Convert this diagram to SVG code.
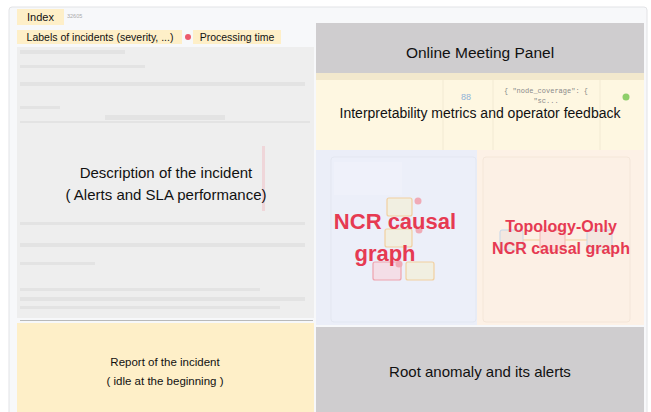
<svg xmlns="http://www.w3.org/2000/svg" width="651" height="412" viewBox="0 0 651 412">
<defs>
<style>
.t{font-family:"Liberation Sans",Arial,sans-serif;fill:#111;text-anchor:middle}
.red{font-family:"Liberation Sans",Arial,sans-serif;fill:#e63a52;font-weight:bold;text-anchor:middle}
.yel{fill:#feefc8}
.gry{fill:#cfcdcf}
.streak{fill:#cdcdcd;opacity:0.35}
.mini{fill:#f3efdc;stroke-width:1.2}
</style>
</defs>
<rect width="651" height="412" fill="#ffffff"/>
<g id="frame">
<rect x="9" y="7" width="638" height="420" rx="3" fill="#f7f8fa" stroke="#e2e3e6"/>
</g>
<g id="index">
<rect class="yel" x="17" y="9" width="47" height="16"/>
<text class="t" x="40.5" y="21" font-size="11">Index</text>
<text x="67" y="18" font-family="Liberation Sans,Arial,sans-serif" font-size="5.5" fill="#aaa">32605</text>
</g>
<g id="labels">
<rect class="yel" x="17" y="30" width="165" height="14"/>
<text class="t" x="100" y="41" font-size="10.5">Labels of incidents (severity, ...)</text>
<circle cx="188" cy="37" r="3" fill="#ec5a6c"/>
</g>
<g id="processing">
<rect class="yel" x="193" y="30" width="88" height="14"/>
<text class="t" x="237" y="41" font-size="10.5">Processing time</text>
</g>
<g id="description">
<rect x="17" y="47" width="297" height="271" fill="#eeeeee"/>
<rect class="streak" x="20" y="50" width="105" height="4"/>
<rect class="streak" x="20" y="65" width="125" height="3"/>
<rect class="streak" x="20" y="82" width="285" height="4"/>
<rect class="streak" x="20" y="106" width="40" height="3"/>
<rect class="streak" x="105" y="115" width="120" height="5"/>
<rect class="streak" x="20" y="121" width="290" height="2"/>
<rect class="streak" x="20" y="222" width="285" height="3"/>
<rect class="streak" x="20" y="243" width="285" height="4"/>
<rect class="streak" x="20" y="262" width="75" height="3"/>
<rect class="streak" x="20" y="288" width="240" height="3"/>
<rect class="streak" x="20" y="297" width="285" height="4"/>
<rect class="streak" x="20" y="306" width="260" height="3"/>
<rect x="262" y="146" width="3" height="65" fill="#f0b8bf" opacity="0.45"/>
<text class="t" x="166" y="178" font-size="15">Description of the incident</text>
<text class="t" x="166" y="200" font-size="15">( Alerts and SLA performance)</text>
<line x1="20" y1="320.5" x2="313" y2="320.5" stroke="#b9b9b9" stroke-width="1"/>
</g>
<g id="report">
<rect class="yel" x="17" y="323" width="297" height="89"/>
<text class="t" x="165" y="366" font-size="11.5">Report of the incident</text>
<text class="t" x="165" y="385" font-size="11.5">( idle at the beginning )</text>
</g>
<g id="online-meeting">
<rect class="gry" x="316" y="23" width="328" height="50"/>
<text class="t" x="480" y="58" font-size="15.5">Online Meeting Panel</text>
</g>
<g id="interpretability">
<rect x="316" y="73" width="328" height="77" fill="#fef7e1"/>
<rect x="316" y="73" width="328" height="7" fill="#f2e8cd"/>
<line x1="443" y1="80" x2="443" y2="150" stroke="#f2ead3" stroke-width="1"/>
<line x1="493" y1="80" x2="493" y2="150" stroke="#f2ead3" stroke-width="1"/>
<line x1="600" y1="80" x2="600" y2="150" stroke="#f2ead3" stroke-width="1"/>
<text x="466" y="100" font-family="Liberation Sans,Arial,sans-serif" font-size="9" fill="#8fb2d8" text-anchor="middle">88</text>
<text x="546" y="93" font-family="Liberation Mono,monospace" font-size="7" fill="#8a8a8a" text-anchor="middle">{ "node_coverage": {</text>
<text x="546" y="103" font-family="Liberation Mono,monospace" font-size="7" fill="#8a8a8a" text-anchor="middle">"sc...</text>
<circle cx="626" cy="97" r="3.5" fill="#8fcf6a"/>
<text class="t" x="480" y="118" font-size="14">Interpretability metrics and operator feedback</text>
</g>
<g id="ncr-graph">
<rect x="316" y="150" width="161" height="175" fill="#ebeef8"/>
<rect x="331" y="157" width="145" height="165" rx="3" fill="#eceff9" stroke="#e3e7f1"/>
<rect x="334" y="162" width="68" height="33" fill="#eff1fa"/>
<g opacity="0.8">
<rect x="387" y="198" width="25" height="18" rx="2" class="mini" stroke="#f3c98a"/>
<rect x="385" y="229" width="27" height="18" rx="2" class="mini" stroke="#f3c98a"/>
<rect x="373" y="262" width="28" height="18" fill="#f6dbe3" stroke="#f08f9b" stroke-width="1.2" rx="2"/>
<rect x="406" y="262" width="28" height="18" rx="2" class="mini" stroke="#f3c98a"/>
<circle cx="418" cy="201" r="3.5" fill="#f19aa6"/>
<circle cx="419" cy="230" r="3.5" fill="#f19aa6"/>
<circle cx="399" cy="264" r="3.5" fill="#f19aa6"/>
</g>
<text class="red" x="395" y="229" font-size="22">NCR causal</text>
<text class="red" x="385" y="261" font-size="22">graph</text>
</g>
<g id="topology-graph">
<rect x="477" y="150" width="167" height="175" fill="#fdf1e6"/>
<rect x="483" y="157" width="147" height="165" rx="3" fill="#fcf0e5" stroke="#f4e6d9"/>
<g opacity="0.8">
<rect x="500" y="230" width="23" height="20" fill="#f1e6df" stroke="#b9d0ea" stroke-width="1" rx="2"/>
<rect x="540" y="230" width="25" height="20" fill="#fbdfdc" stroke="#f2a6a6" stroke-width="1" rx="2"/>
<rect x="587" y="230" width="25" height="20" fill="#f1e6df" stroke="#b9d0ea" stroke-width="1" rx="2"/>
<line x1="523" y1="240" x2="540" y2="240" stroke="#f3c98a" stroke-width="1"/>
<line x1="565" y1="240" x2="587" y2="240" stroke="#f3c98a" stroke-width="1"/>
</g>
<text class="red" x="561" y="232" font-size="16">Topology-Only</text>
<text class="red" x="561" y="254" font-size="16">NCR causal graph</text>
</g>
<g id="root-anomaly">
<rect class="gry" x="316" y="327" width="328" height="85"/>
<text class="t" x="480" y="377" font-size="15">Root anomaly and its alerts</text>
</g>
<g id="connectors"></g>
</svg>
